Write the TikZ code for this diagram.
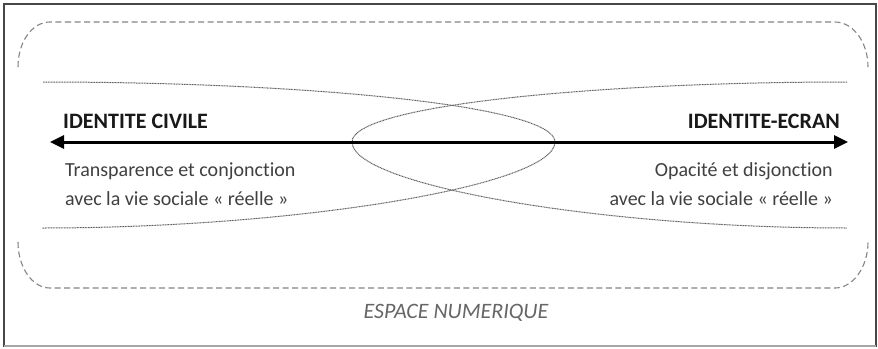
\documentclass[tikz,border=0pt]{standalone}
\usepackage{fontspec}
\setmainfont{Carlito}[Ligatures={NoCommon}]
\usetikzlibrary{arrows.meta}
\begin{document}
\begin{tikzpicture}[x=1pt,y=-1pt,
  frameline/.style={draw=black!72, line width=1.4pt},
  dashline/.style={draw=black!48, line width=1.1pt, dash pattern=on 6pt off 3.5pt},
  dotline/.style={draw=black!62, line width=1pt, dash pattern=on 1pt off 0.6pt},
  mainarrow/.style={draw=black, line width=3pt, {Triangle[length=14pt,width=13pt]}-{Triangle[length=14pt,width=13pt]}},
  titlelabel/.style={font=\fontsize{22}{26}\selectfont\bfseries, text=black!90, inner sep=0pt},
  desclabel/.style={font=\fontsize{20}{24}\selectfont, text=black!75, inner sep=0pt},
  spacelabel/.style={font=\fontsize{22}{26}\selectfont\itshape, text=black!60, inner sep=0pt}]
\useasboundingbox (0,0) rectangle (878,348);
\fill[white] (0,0) rectangle (878,348);
% outer frame
\draw[frameline] (4,4) rectangle (876,346);
\draw[draw=black!35, line width=1.4pt] (4,346) -- (876,346);
% dashed "espace numerique" outline (open at the sides)
\draw[dashline] (18,67) .. controls (18,42) and (32,22) .. (50,22) -- (835,22)
  .. controls (853,22) and (868,42) .. (868,67);
\draw[dashline] (18,242) .. controls (18,267) and (32,288) .. (50,288) -- (835,288)
  .. controls (853,288) and (868,267) .. (868,242);
% crossing dotted curves
\draw[dotline] (43,82) .. controls (300,82) and (555,105) .. (555,142)
  .. controls (555,185) and (300,228) .. (42,228);
\draw[dotline] (847,82) .. controls (600,82) and (352,105) .. (352,142)
  .. controls (352,185) and (600,228) .. (847,228);
% main axis
\coordinate (leftend) at (50,142);
\coordinate (rightend) at (848,142);
\draw[mainarrow] (leftend) -- (rightend);
% labels
\node[titlelabel, anchor=base west] (civ) at (63,128) {IDENTITE CIVILE};
\node[titlelabel, anchor=base east] (ecr) at (840,128) {IDENTITE-ECRAN};
\node[desclabel, anchor=base west] (l1) at (65,176) {Transparence et conjonction};
\node[desclabel, anchor=base west] (l2) at (65,205) {avec la vie sociale «~réelle~»};
\node[desclabel, anchor=base east] (r1) at (833,176) {Opacité et disjonction};
\node[desclabel, anchor=base east] (r2) at (833,205) {avec la vie sociale «~réelle~»};
\node[spacelabel, anchor=base] (esp) at (456,318) {ESPACE NUMERIQUE};
\end{tikzpicture}
\end{document}
